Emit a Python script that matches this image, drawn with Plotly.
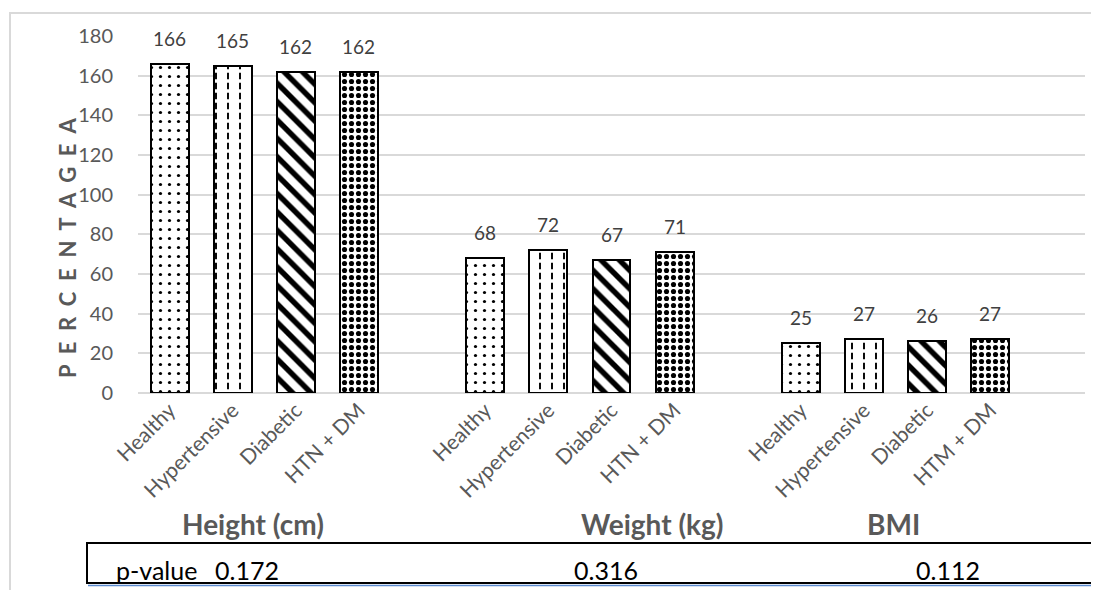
import plotly.graph_objects as go

# ---- data ----
groups = ["Height (cm)", "Weight (kg)", "BMI"]
conditions = ["Healthy", "Hypertensive", "Diabetic", "HTN + DM"]
tick_labels = [
    ["Healthy", "Hypertensive", "Diabetic", "HTN + DM"],
    ["Healthy", "Hypertensive", "Diabetic", "HTN + DM"],
    ["Healthy", "Hypertensive", "Diabetic", "HTM + DM"],
]
healthy = [166, 68, 25]
hypertensive = [165, 72, 27]
diabetic = [162, 67, 26]
htn_dm = [162, 71, 27]
p_label = "p-value"
p_values = ["0.172", "0.316", "0.112"]
y_ticks = [0, 20, 40, 60, 80, 100, 120, 140, 160, 180]
y_title = "PERCENTAGEA"

series = [healthy, hypertensive, diabetic, htn_dm]
base = dict(fgcolor="black", bgcolor="white", fgopacity=1, fillmode="overlay")
patterns = [
    dict(shape=".", size=9, solidity=0.1, **base),
    dict(shape="|", size=12, solidity=0.16, **base),
    dict(shape="\\", size=13, solidity=0.42, **base),
    dict(shape=".", size=7, solidity=0.42, **base),
]

slot = 5  # 4 bars + one empty slot per group
FONT = "Lato"
GRAY = "#595959"

# page-pixel -> paper helpers (page has an 8px body margin; plot area 138..1085 x 36..393)
PL, PR, PT, PB = 138, 1085, 36, 393
def xp(px):
    return (px - PL) / (PR - PL)
def yp(py):
    return (PB - py) / (PB - PT)

fig = go.Figure()
for ci, (name, vals, pat) in enumerate(zip(conditions, series, patterns)):
    xs = [gi * slot + ci for gi in range(len(groups))]
    fig.add_trace(go.Bar(
        x=xs, y=vals, name=name, width=0.6,
        marker=dict(color="white", pattern=pat, line=dict(color="black", width=2)),
        showlegend=False, hoverinfo="y",
    ))
    if name == "Hypertensive":
        # white horizontal gaps to turn the vertical lines into dashes
        fig.add_trace(go.Bar(
            x=xs, y=vals, name=name, width=0.6,
            marker=dict(color="rgba(0,0,0,0)",
                        pattern=dict(shape="-", size=10, solidity=0.35, fgcolor="white",
                                     bgcolor="rgba(0,0,0,0)", fgopacity=1, fillmode="overlay"),
                        line=dict(color="black", width=2)),
            showlegend=False, hoverinfo="skip",
        ))
    for x, v in zip(xs, vals):
        fig.add_annotation(x=x, y=v, text=str(v), showarrow=False, yanchor="bottom",
                           xanchor="center", yshift=12,
                           font=dict(family=FONT, size=19, color="#404040"))

tickvals, ticktext = [], []
for gi in range(len(groups)):
    for ci in range(len(conditions)):
        tickvals.append(gi * slot + ci)
        ticktext.append(tick_labels[gi][ci])

fig.update_layout(
    width=1091, height=582,
    margin=dict(l=PL - 8, r=1099 - PR, t=PT - 8, b=590 - PB),
    paper_bgcolor="white", plot_bgcolor="white",
    font=dict(family=FONT, color=GRAY),
    barmode="overlay", bargap=0,
    xaxis=dict(range=[-0.5, 14.5], tickvals=tickvals, ticktext=ticktext, tickangle=-45,
               tickfont=dict(family=FONT, size=21, color=GRAY), showgrid=False,
               showline=False, zeroline=False, ticks="", automargin=False),
    yaxis=dict(range=[0, 180], tickvals=y_ticks, showgrid=True, gridcolor="#d9d9d9",
               gridwidth=1.5, zeroline=True, zerolinecolor="#d9d9d9", zerolinewidth=1.5,
               tickfont=dict(family=FONT, size=20, color=GRAY), ticklabelstandoff=24,
               showline=False, automargin=False),
)

# y-axis title with spaced letters
sp = "\u00a0\u00a0"
fig.add_annotation(xref="paper", yref="paper", x=xp(67), y=yp(248),
                   xanchor="center", yanchor="middle",
                   text="<b>" + sp.join(list(y_title)) + "</b>", textangle=-90,
                   showarrow=False, font=dict(family=FONT, size=22, color=GRAY))

# group titles
group_centers_px = [253, 652, 893]
for g, cx in zip(groups, group_centers_px):
    fig.add_annotation(xref="paper", yref="paper", x=xp(cx), y=yp(524),
                       xanchor="center", yanchor="middle",
                       text="<b>" + g + "</b>", showarrow=False,
                       font=dict(family=FONT, size=28, color=GRAY))

# outer chart border
fig.add_shape(type="rect", xref="paper", yref="paper",
              x0=xp(10), x1=xp(1115), y0=yp(610), y1=yp(13),
              line=dict(color="#d9d9d9", width=2), fillcolor="rgba(0,0,0,0)", layer="below")

# p-value box
fig.add_shape(type="rect", xref="paper", yref="paper",
              x0=xp(87), x1=xp(1092), y0=yp(583), y1=yp(543),
              line=dict(color="black", width=2), fillcolor="rgba(0,0,0,0)")
fig.add_shape(type="line", xref="paper", yref="paper",
              x0=xp(88), x1=xp(1099), y0=yp(585.5), y1=yp(585.5),
              line=dict(color="#5b8bd0", width=1.5))

fig.add_annotation(xref="paper", yref="paper", x=xp(114), y=yp(570),
                   xanchor="left", yanchor="middle", text=p_label, showarrow=False,
                   font=dict(family=FONT, size=25, color="black"))
p_left_px = [213, 572, 914]
for t, lx in zip(p_values, p_left_px):
    fig.add_annotation(xref="paper", yref="paper", x=xp(lx), y=yp(570),
                       xanchor="left", yanchor="middle", text=t, showarrow=False,
                       font=dict(family=FONT, size=25, color="black"))

fig.write_html("out.html")
